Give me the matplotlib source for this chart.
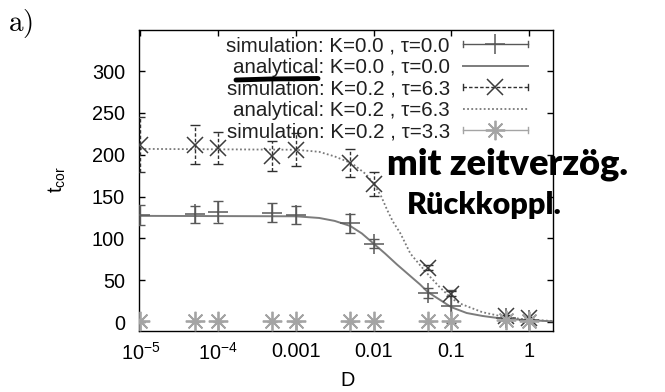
import matplotlib
matplotlib.use("Agg")
import matplotlib.pyplot as plt
from matplotlib.lines import Line2D
from matplotlib.legend_handler import HandlerBase

plt.rcParams['font.family'] = ['Liberation Sans', 'DejaVu Sans']
plt.rcParams['mathtext.fontset'] = 'cm'

# ---- data ----
D_sim = [1e-5, 5e-5, 1e-4, 5e-4, 1e-3, 5e-3, 1e-2, 5e-2, 0.1, 0.5, 1.0]
t_sim_K0 = [128, 129, 132, 131, 128, 118, 94, 35, 19, 5, 3]
err_sim_K0 = [12, 10, 13, 11, 11, 11, 5, 6, 20, 2, 1]
t_sim_tau63 = [212, 212, 208, 199, 206, 190, 165, 65, 34, 7, 5]
err_sim_tau63 = [33, 23, 19, 18, 20, 17, 14, 3, 3, 2, 1]
t_sim_tau33 = [1, 1, 1, 1, 1, 1, 1, 1, 1, 3, 2]
err_sim_tau33 = [1, 1, 1, 1, 1, 1, 1, 1, 1, 1, 1]

D_ana_K0 = [1e-5, 1e-3, 2e-3, 3.16e-3, 5e-3, 7.08e-3, 1e-2, 1.41e-2, 2e-2, 2.82e-2,
            3.98e-2, 5e-2, 7.08e-2, 0.1, 0.158, 0.251, 0.398, 0.5, 0.631, 1.0, 2.0]
t_ana_K0 = [127, 126.5, 124.5, 121, 115, 106, 94, 82, 69, 57,
            45, 36, 27, 18, 11, 7.5, 5, 4.4, 3.5, 2.5, 1]

D_ana_tau63 = [1e-5, 1e-3, 2e-3, 3.16e-3, 5.3e-3, 7.94e-3, 1e-2, 1.26e-2, 1.5e-2, 1.78e-2,
               2.22e-2, 2.98e-2, 3.98e-2, 5.37e-2, 7.08e-2, 0.102, 0.132, 0.251, 0.5, 1.0, 2.0]
t_ana_tau63 = [207, 206, 203.5, 198, 189.6, 177, 166, 150, 134, 120,
               106, 82, 68, 54, 42, 28, 22, 12, 6, 3, 1.5]

labels = ["simulation: K=0.0 , τ=0.0",
          "analytical: K=0.0 , τ=0.0",
          "simulation: K=0.2 , τ=6.3",
          "analytical: K=0.2 , τ=6.3",
          "simulation: K=0.2 , τ=3.3"]
xticks = [1e-5, 1e-4, 1e-3, 1e-2, 0.1, 1]
xticklabels = [r'$\mathregular{10^{-5}}$', r'$\mathregular{10^{-4}}$', '0.001', '0.01', '0.1', '1']
yticks = [0, 50, 100, 150, 200, 250, 300]

# ---- styles ----
c_plus = '#585858'
c_line0 = '#7c7c7c'
c_cross = '#3c3c3c'
c_dot = '#7a7a7a'
c_star = '#a4a4a4'
star = (8, 2, 0)


class ErrHandler(HandlerBase):
    def __init__(self, color, ecolor, ls, marker, ms, mew):
        super().__init__()
        self.color, self.ecolor, self.ls = color, ecolor, ls
        self.marker, self.ms, self.mew = marker, ms, mew

    def create_artists(self, legend, orig_handle, xdescent, ydescent, width,
                       height, fontsize, trans):
        y = (height - ydescent) / 2
        x0, x1 = -xdescent, -xdescent + width
        cap = 0.22 * height
        arts = [Line2D([x0, x1], [y, y], color=self.ecolor, ls=self.ls, lw=1),
                Line2D([x0, x0], [y - cap, y + cap], color=self.ecolor, lw=1),
                Line2D([x1, x1], [y - cap, y + cap], color=self.ecolor, lw=1),
                Line2D([(x0 + x1) / 2], [y], marker=self.marker, ms=self.ms,
                       mew=self.mew, color=self.color, ls='none')]
        for a in arts:
            a.set_transform(trans)
        return arts


fig = plt.figure(figsize=(6.65, 3.92), dpi=100)
ax = fig.add_axes([139 / 665, 1 - 331 / 392, (553 - 139) / 665, (331 - 30) / 392])

ana0, = ax.plot(D_ana_K0, t_ana_K0, color=c_line0, lw=1.4, zorder=2)
ana6, = ax.plot(D_ana_tau63, t_ana_tau63, color=c_dot, lw=1.3, ls=(0, (1, 1.3)), zorder=2)

e0 = ax.errorbar(D_sim, t_sim_K0, yerr=err_sim_K0, fmt='none', ecolor=c_plus,
                 elinewidth=1, capsize=3.5, capthick=1, zorder=3)
ax.plot(D_sim, t_sim_K0, ls='none', marker='+', color=c_plus, ms=14, mew=1.1, zorder=3)
e6 = ax.errorbar(D_sim, t_sim_tau63, yerr=err_sim_tau63, fmt='none', ecolor='#303030',
                 elinewidth=1, capsize=3.5, capthick=1, zorder=3)
for lc in e6[2]:
    lc.set_linestyle((0, (2.5, 1.5)))
ax.plot(D_sim, t_sim_tau63, ls='none', marker='x', color=c_cross, ms=11, mew=1.1, zorder=3)
e3 = ax.errorbar(D_sim, t_sim_tau33, yerr=err_sim_tau33, fmt='none', ecolor=c_star,
                 elinewidth=1, capsize=3.5, capthick=1, zorder=3)
ax.plot(D_sim, t_sim_tau33, ls='none', marker=star, color=c_star, ms=14, mew=1.3, zorder=3)

ax.set_xscale('log')
ax.set_xlim(9.6e-6, 2.04)
ax.set_ylim(-10.5, 349)
ax.set_xticks(xticks)
ax.set_xticklabels(xticklabels)
ax.xaxis.set_minor_locator(matplotlib.ticker.NullLocator())
ax.set_yticks(yticks)
ax.tick_params(direction='in', length=4, width=1, top=True, right=True, labelsize=14.3)
ax.tick_params(axis='y', pad=10)
ax.tick_params(axis='x', pad=8)
for s in ax.spines.values():
    s.set_linewidth(1)

lfs = 14.8
lpx = lfs * 100 / 72
handler_map = {
    e0: ErrHandler(c_plus, c_plus, '-', '+', 14, 1.1),
    e6: ErrHandler(c_cross, '#303030', (0, (2.5, 1.5)), 'x', 11, 1.1),
    e3: ErrHandler(c_star, c_star, '-', star, 14, 1.3),
}
leg = ax.legend([e0, ana0, e6, ana6, e3], labels, handler_map=handler_map,
                loc='upper right', bbox_to_anchor=(0.9396, 0.979), frameon=False,
                markerfirst=False, fontsize=lfs, labelspacing=0.12, borderpad=0,
                borderaxespad=0, handlelength=65 / lpx, handletextpad=13 / lpx)
for t in leg.get_texts():
    t.set_color('#202020')

fig.text(8 / 665, 1 - 24 / 392, r'$\mathrm{a)}$', fontsize=21, va='center', ha='left')
fig.text(57 / 665, 1 - 180 / 392, r'$\mathregular{t_{cor}}$', fontsize=14.3,
         ha='center', va='center', rotation=90)
fig.text(348 / 665, 1 - 381 / 392, 'D', fontsize=14.3, ha='center', va='center')

# handwritten annotation
fig.text(387 / 665, 1 - 164 / 392, 'mit zeitverzög.', fontsize=26, fontweight='heavy',
         family='Lato', ha='left', va='center', color='black')
fig.text(407 / 665, 1 - 205 / 392, 'Rückkoppl.', fontsize=22, fontweight='heavy',
         family='Lato', ha='left', va='center', color='black')
fig.add_artist(Line2D([236 / 665, 270 / 665, 318 / 665],
                      [1 - 80 / 392, 1 - 79 / 392, 1 - 78.5 / 392],
                      transform=fig.transFigure, color='black', lw=3.5,
                      solid_capstyle='round'))

fig.savefig('out.png', dpi=100)
